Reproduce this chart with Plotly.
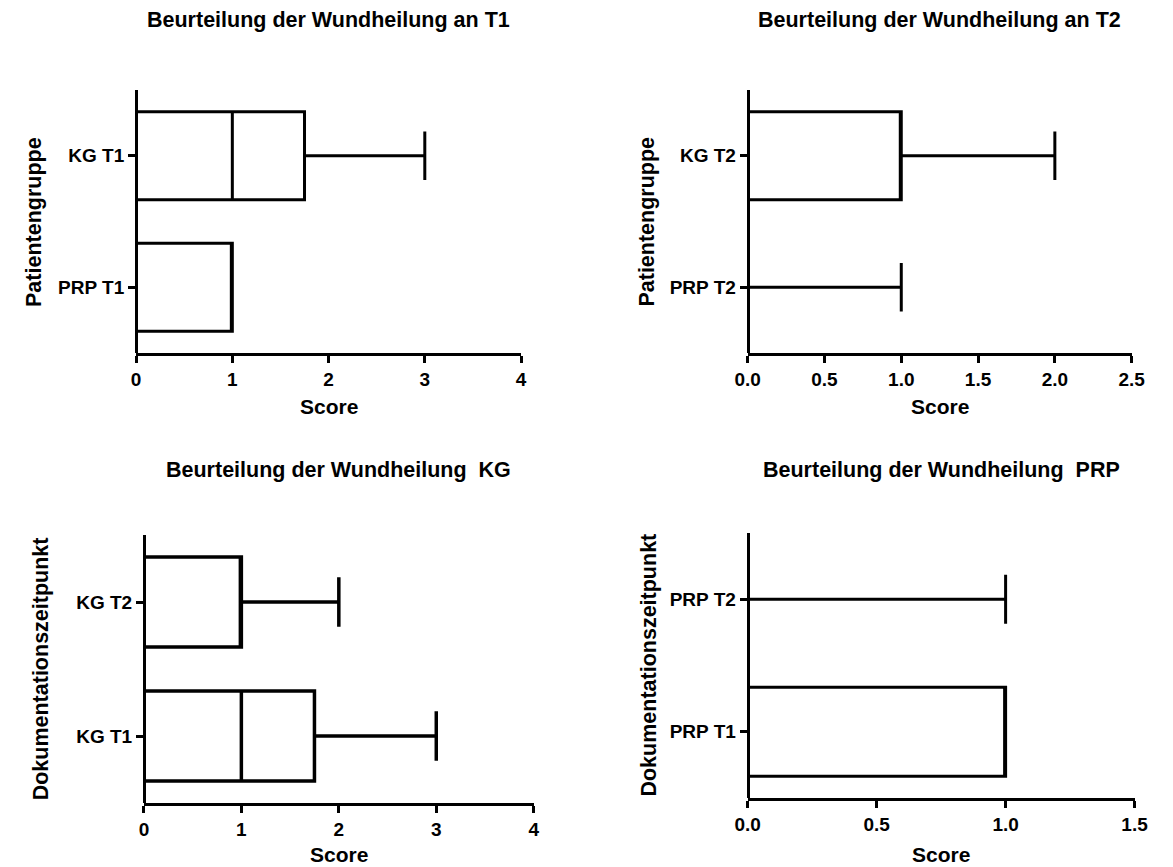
import plotly.graph_objects as go

W, H = 1173, 867

# ---- data (Score box plot summaries) ----
# Panel 1: Beurteilung der Wundheilung an T1
p1_cats = ["PRP T1", "KG T1"]
p1_min = [0, 0]
p1_q1 = [0, 0]
p1_med = [1, 1]
p1_q3 = [1, 1.75]
p1_max = [1, 3]

# Panel 2: Beurteilung der Wundheilung an T2
p2_cats = ["PRP T2", "KG T2"]
p2_min = [0, 0]
p2_q1 = [0, 0]
p2_med = [0, 1]
p2_q3 = [0, 1]
p2_max = [1, 2]

# Panel 3: Beurteilung der Wundheilung KG
p3_cats = ["KG T1", "KG T2"]
p3_min = [0, 0]
p3_q1 = [0, 0]
p3_med = [1, 1]
p3_q3 = [1.75, 1]
p3_max = [3, 2]

# Panel 4: Beurteilung der Wundheilung PRP
p4_cats = ["PRP T1", "PRP T2"]
p4_min = [0, 0]
p4_q1 = [0, 0]
p4_med = [1, 0]
p4_q3 = [1, 0]
p4_max = [1, 1]

titles = ["Beurteilung der Wundheilung an T1",
          "Beurteilung der Wundheilung an T2",
          "Beurteilung der Wundheilung\u00a0 KG",
          "Beurteilung der Wundheilung\u00a0 PRP"]
xranges = [[0, 4], [0, 2.5], [0, 4], [0, 1.5]]
xdticks = [1, 0.5, 1, 0.5]
xfmts = ["d", ".1f", "d", ".1f"]
ytitles = ["Patientengruppe", "Patientengruppe",
           "Dokumentationszeitpunkt", "Dokumentationszeitpunkt"]
xtitle = "Score"

# ---- layout geometry (pixels) ----
boxes_px = [  # left, right, top, bottom
    (126, 520, 90, 353),
    (752, 1145, 90, 353),
    (134, 533, 535, 803),
    (752, 1148, 533, 798),
]
title_y = [20, 20, 470, 470]
xtitle_y = [407, 407, 854, 854]
ytitle_x = [22, 649, 29, 650]
lw = [3, 3, 3.5, 3]

FONT = "Liberation Sans, Arial, sans-serif"

fig = go.Figure()
panels = [
    (p1_cats, p1_min, p1_q1, p1_med, p1_q3, p1_max),
    (p2_cats, p2_min, p2_q1, p2_med, p2_q3, p2_max),
    (p3_cats, p3_min, p3_q1, p3_med, p3_q3, p3_max),
    (p4_cats, p4_min, p4_q1, p4_med, p4_q3, p4_max),
]

annotations = []
for i, (cats, mn, q1, med, q3, mx) in enumerate(panels):
    n = "" if i == 0 else str(i + 1)
    fig.add_trace(go.Box(
        y=cats, q1=q1, median=med, q3=q3, lowerfence=mn, upperfence=mx,
        orientation="h", width=0.67, whiskerwidth=0.55,
        line=dict(color="black", width=lw[i]), fillcolor="rgba(0,0,0,0)",
        boxpoints=False, showlegend=False, hoverinfo="skip",
        xaxis="x" + n, yaxis="y" + n,
    ))
    l, r, t, b = boxes_px[i]
    fig.update_layout(**{
        "xaxis" + n: dict(
            domain=[l / W, r / W], anchor="y" + n, range=xranges[i],
            dtick=xdticks[i], tick0=0, tickformat=xfmts[i],
            showline=True, linecolor="black", linewidth=3,
            ticks="outside", ticklen=7, tickwidth=3, tickcolor="black",
            showgrid=False, zeroline=False,
            tickfont=dict(family=FONT, size=19, color="black", weight="bold"),
        ),
        "yaxis" + n: dict(
            domain=[1 - b / H, 1 - t / H], anchor="free", position=l / W,
            type="category", categoryorder="array", categoryarray=cats,
            range=[-0.5, 1.5],
            showline=True, linecolor="black", linewidth=3,
            ticks="outside", ticklen=7, tickwidth=3, tickcolor="black",
            showgrid=False, zeroline=False,
            tickfont=dict(family=FONT, size=19, color="black", weight="bold"),
        ),
    })
    annotations.append(dict(
        text=titles[i], x=(l + r) / 2 / W, y=1 - title_y[i] / H,
        xref="paper", yref="paper", xanchor="center", yanchor="middle",
        showarrow=False,
        font=dict(family=FONT, size=21.5, color="black", weight="bold")))
    annotations.append(dict(
        text=xtitle, x=(l + r) / 2 / W, y=1 - xtitle_y[i] / H,
        xref="paper", yref="paper", xanchor="center", yanchor="middle",
        showarrow=False,
        font=dict(family=FONT, size=21, color="black", weight="bold")))
    annotations.append(dict(
        text=ytitles[i], x=ytitle_x[i] / W, y=1 - (t + b) / 2 / H,
        xref="paper", yref="paper", xanchor="center", yanchor="middle",
        textangle=-90, showarrow=False,
        font=dict(family=FONT, size=21.5, color="black", weight="bold")))

fig.update_layout(
    width=W, height=H,
    margin=dict(l=0, r=0, t=0, b=0),
    paper_bgcolor="white", plot_bgcolor="white",
    annotations=annotations,
    showlegend=False,
)

fig.write_html("out.html")
